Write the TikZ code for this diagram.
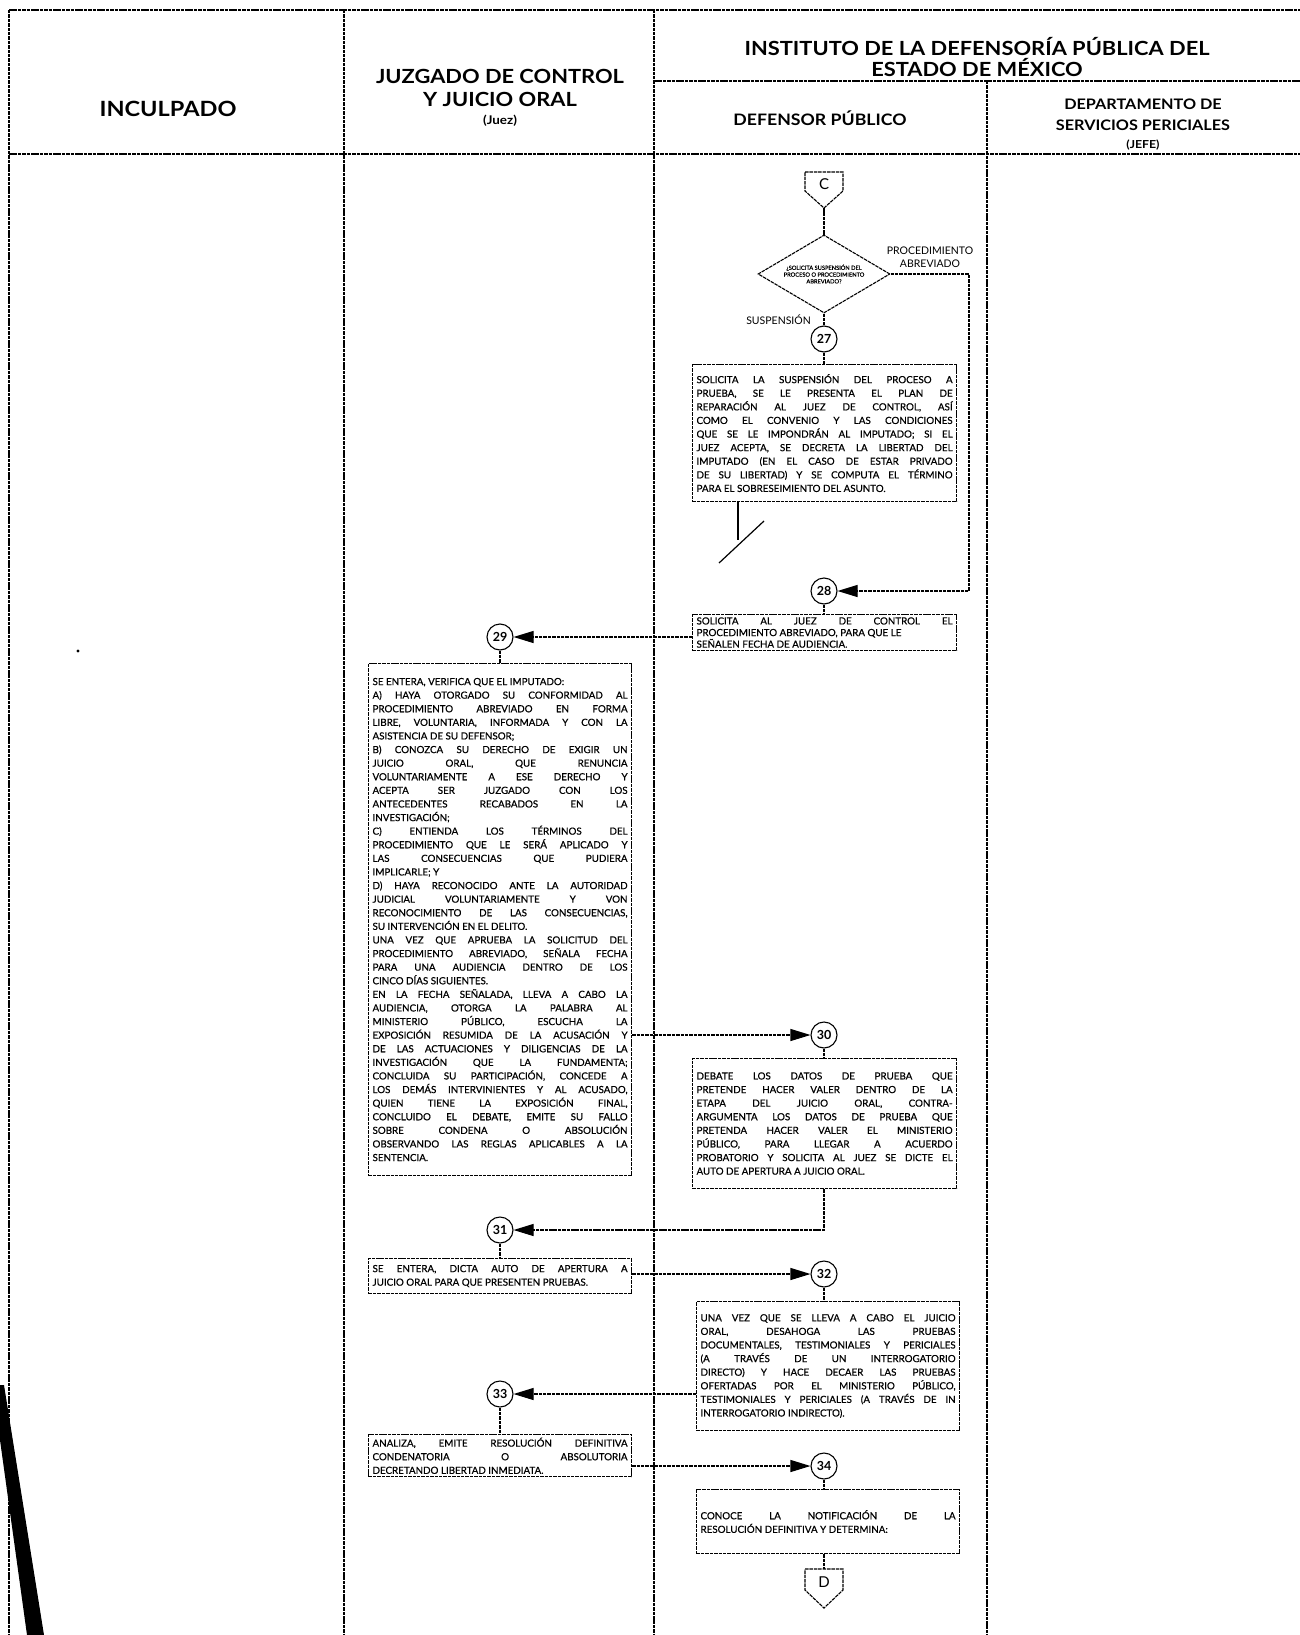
\documentclass[tikz,border=0pt]{standalone}
\usepackage{fontspec}
\setmainfont{Lato}
\newfontfamily\hfont{Lato}[FakeStretch=1.12]
\newfontfamily\bodyfont{Lato}[FakeBold=0.6]
\usetikzlibrary{shapes.geometric,arrows.meta,calc}
\tolerance=10000\relax
\hyphenpenalty=10000\relax
\exhyphenpenalty=10000\relax
\begin{document}
\begin{tikzpicture}[x=1pt,y=-1pt,
  ln/.style={line width=1.1pt, dash pattern=on 3.5pt off 0.9pt},
  frame/.style={line width=1.1pt, dash pattern=on 3.5pt off 0.9pt},
  box/.style={draw, ln, anchor=north west, align=justify, inner xsep=4pt, inner ysep=3pt,
    font=\bodyfont\fontsize{9.8}{13.6}\selectfont},
  num/.style={circle, draw, line width=1.1pt, minimum size=26pt, inner sep=0pt, font=\bfseries\fontsize{12.5}{12.5}\selectfont},
  arr/.style={ln, -{Triangle[length=20pt,width=12pt]}},
  hbig/.style={font=\hfont\bfseries\fontsize{19.5}{21}\selectfont},
  hmid/.style={font=\hfont\bfseries\fontsize{14.5}{17}\selectfont},
  hsmall/.style={font=\hfont\bfseries\fontsize{12}{13}\selectfont},
  lbl/.style={font=\fontsize{10.5}{13}\selectfont, inner sep=1pt},
  conn/.style={font=\fontsize{15}{15}\selectfont},
]
\useasboundingbox (0,0) rectangle (1300,1635);
% ---------- frame ----------
\draw[frame] (9,10) -- (1300,10);
\draw[frame] (9,10) -- (9,1635);
\draw[frame] (344,10) -- (344,1635);
\draw[frame] (654,10) -- (654,1635);
\draw[frame] (987,81) -- (987,1635);
\draw[frame] (654,81) -- (1300,81);
\draw[frame] (9,154) -- (1300,154);
% ---------- headers ----------
\node[hbig, font=\hfont\bfseries\fontsize{21}{22}\selectfont] (hInc) at (168,109) {INCULPADO};
\node[hbig] (hJ1) at (500,76) {JUZGADO DE CONTROL};
\node[hbig] (hJ2) at (500,99) {Y JUICIO ORAL};
\node[hsmall] (hJ3) at (500,121) {(Juez)};
\node[hbig] (hI1) at (977,47) {INSTITUTO DE LA DEFENSORÍA PÚBLICA DEL};
\node[hbig] (hI2) at (977,68) {ESTADO DE MÉXICO};
\node[hmid, font=\hfont\bfseries\fontsize{15.8}{17}\selectfont] (hDef) at (820,118) {DEFENSOR PÚBLICO};
\node[hmid] (hDep1) at (1143,104) {DEPARTAMENTO DE};
\node[hmid] (hDep2) at (1143,125) {SERVICIOS PERICIALES};
\node[hsmall, font=\hfont\bfseries\fontsize{11}{12}\selectfont] (hDep3) at (1143,145) {(JEFE)};
% ---------- connector C ----------
\node[conn] (conC) at (824,184) {C};
\draw[ln, line join=miter] (805,172) -- (843,172) -- (843,191) -- (824,208) -- (805,191) -- cycle;
\coordinate (cTip) at (824,208);
% ---------- decision ----------
\node[diamond, draw, ln, aspect=1.7, minimum width=132pt, minimum height=78pt, inner sep=0pt, align=center,
  font=\bodyfont\fontsize{5.7}{6.8}\selectfont] (dec) at (824,274)
  {¿SOLICITA SUSPENSIÓN DEL\\PROCESO O PROCEDIMIENTO\\ABREVIADO?};
\draw[ln] (cTip) -- (dec.north);
\node[lbl, align=center] (lProc) at (930,257) {PROCEDIMIENTO\\ABREVIADO};
\node[lbl, anchor=east] (lSus) at (812,320) {SUSPENSIÓN};
% ---------- 27 ----------
\node[num] (n27) at (824,339) {27};
\draw[ln] (dec.south) -- (n27);
\node[box, text width=256pt, minimum height=137pt] (b27) at (692,364) {SOLICITA LA SUSPENSIÓN DEL PROCESO A\linebreak
PRUEBA, SE LE PRESENTA EL PLAN DE\linebreak
REPARACIÓN AL JUEZ DE CONTROL, ASÍ\linebreak
COMO EL CONVENIO Y LAS CONDICIONES\linebreak
QUE SE LE IMPONDRÁN AL IMPUTADO; SI EL\linebreak
JUEZ ACEPTA, SE DECRETA LA LIBERTAD DEL\linebreak
IMPUTADO (EN EL CASO DE ESTAR PRIVADO\linebreak
DE SU LIBERTAD) Y SE COMPUTA EL TÉRMINO\linebreak
PARA EL SOBRESEIMIENTO DEL ASUNTO.};
\draw[ln] (n27) -- (b27.north -| n27);
\coordinate (endA) at (738,540);
\coordinate (slashA) at (719,563);
\coordinate (slashB) at (764,521);
\draw[line width=1.2pt] (b27.south -| endA) -- (endA);
\draw[line width=1.2pt] (slashA) -- (slashB);
% ---------- 28 ----------
\node[num] (n28) at (824,591) {28};
\coordinate (decR) at (969,274);
\draw[arr] (dec.east) -- (decR) -- (decR |- n28) -- (n28);
\node[box, text width=256pt, minimum height=36pt, inner ysep=1.5pt, font=\bodyfont\fontsize{9.8}{11.6}\selectfont] (b28) at (692,614) {SOLICITA AL JUEZ DE CONTROL EL\linebreak
PROCEDIMIENTO ABREVIADO, PARA QUE LE\\
SEÑALEN FECHA DE AUDIENCIA.};
\draw[ln] (n28) -- (b28.north -| n28);
% ---------- 29 ----------
\node[num] (n29) at (500,637) {29};
\draw[arr] (b28.west |- n29) -- (n29);
\node[box, text width=255pt, minimum height=512pt] (b29) at (368,663) {SE ENTERA, VERIFICA QUE EL IMPUTADO:\\
A) HAYA OTORGADO SU CONFORMIDAD AL\linebreak
PROCEDIMIENTO ABREVIADO EN FORMA\linebreak
LIBRE, VOLUNTARIA, INFORMADA Y CON LA\linebreak
ASISTENCIA DE SU DEFENSOR;\\
B) CONOZCA SU DERECHO DE EXIGIR UN\linebreak
JUICIO ORAL, QUE RENUNCIA\linebreak
VOLUNTARIAMENTE A ESE DERECHO Y\linebreak
ACEPTA SER JUZGADO CON LOS\linebreak
ANTECEDENTES RECABADOS EN LA\linebreak
INVESTIGACIÓN;\\
C) ENTIENDA LOS TÉRMINOS DEL\linebreak
PROCEDIMIENTO QUE LE SERÁ APLICADO Y\linebreak
LAS CONSECUENCIAS QUE PUDIERA\linebreak
IMPLICARLE; Y\\
D) HAYA RECONOCIDO ANTE LA AUTORIDAD\linebreak
JUDICIAL VOLUNTARIAMENTE Y VON\linebreak
RECONOCIMIENTO DE LAS CONSECUENCIAS,\linebreak
SU INTERVENCIÓN EN EL DELITO.\\
UNA VEZ QUE APRUEBA LA SOLICITUD DEL\linebreak
PROCEDIMIENTO ABREVIADO, SEÑALA FECHA\linebreak
PARA UNA AUDIENCIA DENTRO DE LOS\linebreak
CINCO DÍAS SIGUIENTES.\\
EN LA FECHA SEÑALADA, LLEVA A CABO LA\linebreak
AUDIENCIA, OTORGA LA PALABRA AL\linebreak
MINISTERIO PÚBLICO, ESCUCHA LA\linebreak
EXPOSICIÓN RESUMIDA DE LA ACUSACIÓN Y\linebreak
DE LAS ACTUACIONES Y DILIGENCIAS DE LA\linebreak
INVESTIGACIÓN QUE LA FUNDAMENTA;\linebreak
CONCLUIDA SU PARTICIPACIÓN, CONCEDE A\linebreak
LOS DEMÁS INTERVINIENTES Y AL ACUSADO,\linebreak
QUIEN TIENE LA EXPOSICIÓN FINAL,\linebreak
CONCLUIDO EL DEBATE, EMITE SU FALLO\linebreak
SOBRE CONDENA O ABSOLUCIÓN\linebreak
OBSERVANDO LAS REGLAS APLICABLES A LA\linebreak
SENTENCIA.};
\draw[ln] (n29) -- (b29.north -| n29);
% ---------- 30 ----------
\node[num] (n30) at (824,1035) {30};
\draw[arr] (b29.east |- n30) -- (n30);
\node[box, text width=256pt, minimum height=130pt] (b30) at (692,1058) {DEBATE LOS DATOS DE PRUEBA QUE\linebreak
PRETENDE HACER VALER DENTRO DE LA\linebreak
ETAPA DEL JUICIO ORAL, CONTRA-\linebreak
ARGUMENTA LOS DATOS DE PRUEBA QUE\linebreak
PRETENDA HACER VALER EL MINISTERIO\linebreak
PÚBLICO, PARA LLEGAR A ACUERDO\linebreak
PROBATORIO Y SOLICITA AL JUEZ SE DICTE EL\linebreak
AUTO DE APERTURA A JUICIO ORAL.};
\draw[ln] (n30) -- (b30.north -| n30);
% ---------- 31 ----------
\node[num] (n31) at (500,1230) {31};
\draw[arr] (b30.south -| n30) |- (n31);
\node[box, text width=255pt, minimum height=35pt] (b31) at (368,1258) {SE ENTERA, DICTA AUTO DE APERTURA A\linebreak
JUICIO ORAL PARA QUE PRESENTEN PRUEBAS.};
\draw[ln] (n31) -- (b31.north -| n31);
% ---------- 32 ----------
\node[num] (n32) at (824,1274) {32};
\draw[arr] (b31.east |- n32) -- (n32);
\node[box, text width=255pt, minimum height=129pt] (b32) at (696,1301) {UNA VEZ QUE SE LLEVA A CABO EL JUICIO\linebreak
ORAL, DESAHOGA LAS PRUEBAS\linebreak
DOCUMENTALES, TESTIMONIALES Y PERICIALES\linebreak
(A TRAVÉS DE UN INTERROGATORIO\linebreak
DIRECTO) Y HACE DECAER LAS PRUEBAS\linebreak
OFERTADAS POR EL MINISTERIO PÚBLICO,\linebreak
TESTIMONIALES Y PERICIALES (A TRAVÉS DE IN\linebreak
INTERROGATORIO INDIRECTO).};
\draw[ln] (n32) -- (b32.north -| n32);
% ---------- 33 ----------
\node[num] (n33) at (500,1394) {33};
\draw[arr] (b32.west |- n33) -- (n33);
\node[box, text width=255pt, minimum height=39pt] (b33) at (368,1434) {ANALIZA, EMITE RESOLUCIÓN DEFINITIVA\linebreak
CONDENATORIA O ABSOLUTORIA\linebreak
DECRETANDO LIBERTAD INMEDIATA.};
\draw[ln] (n33) -- (b33.north -| n33);
% ---------- 34 ----------
\node[num] (n34) at (824,1466) {34};
\draw[arr] (b33.east |- n34) -- (n34);
\node[box, text width=255pt, minimum height=64pt] (b34) at (696,1489) {CONOCE LA NOTIFICACIÓN DE LA\linebreak
RESOLUCIÓN DEFINITIVA Y DETERMINA:};
\draw[ln] (n34) -- (b34.north -| n34);
% ---------- connector D ----------
\node[conn] (conD) at (824,1582) {D};
\draw[ln, line join=miter] (805,1569) -- (843,1569) -- (843,1590) -- (824,1608) -- (805,1590) -- cycle;
\coordinate (dTop) at (824,1569);
\draw[ln] (b34.south -| n34) -- (dTop);
% ---------- scan marks ----------
\fill (0,1385) -- (4,1385) -- (44,1635) -- (27,1635) -- (0,1440) -- cycle;
\fill (78,651) circle (1.6pt);
\end{tikzpicture}
\end{document}
